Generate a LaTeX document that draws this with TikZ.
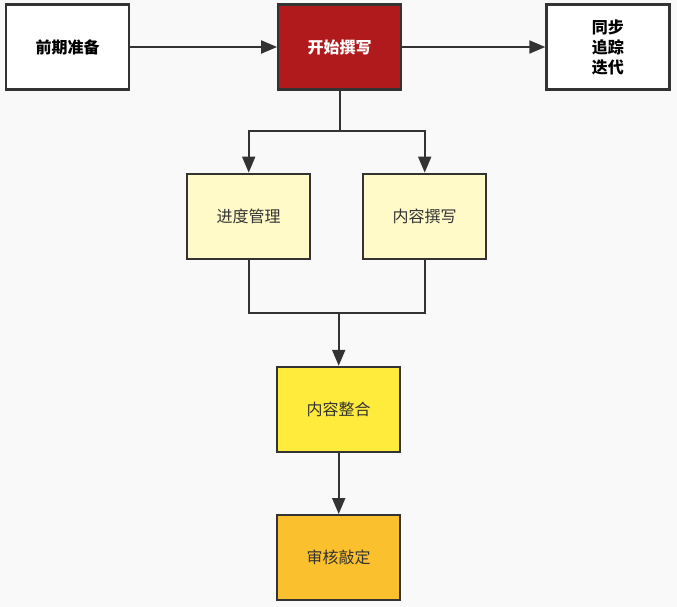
\documentclass[tikz,border=0pt]{standalone}
\usepackage{fontspec}
\setmainfont{Noto Sans CJK SC}
\usepackage{xcolor}
\usetikzlibrary{arrows.meta, positioning, calc}

\definecolor{bgc}{RGB}{249,249,249}
\definecolor{edgec}{RGB}{51,51,51}
\definecolor{redc}{RGB}{176,26,28}
\definecolor{paleyel}{RGB}{255,250,200}
\definecolor{yel}{RGB}{255,235,59}
\definecolor{oran}{RGB}{251,192,45}

\begin{document}
\begin{tikzpicture}[x=1pt,y=-1pt,>={Triangle[length=16pt,width=13pt]},
    box/.style={draw=edgec,line width=2.2pt,minimum width=123pt,minimum height=85pt,
      align=center,font=\fontsize{16}{20}\selectfont,text=edgec},
    flow/.style={->,draw=edgec,line width=2pt}]
  \fill[bgc] (0,0) rectangle (677,607);
  \node[box,fill=white,font=\fontsize{16}{20}\selectfont\bfseries,text=black] (prep) at (67.5,47) {前期准备};
  \node[box,fill=redc,font=\fontsize{16}{20}\selectfont\bfseries,text=white,
        right=147pt of prep] (start) {开始撰写};
  \node[box,fill=white,font=\fontsize{16}{20}\selectfont\bfseries,text=black,
        right=143pt of start] (sync) {同步\\追踪\\迭代};
  \node[box,fill=paleyel,below=82pt of start,xshift=-91pt] (sched) {进度管理};
  \node[box,fill=paleyel,below=82pt of start,xshift=85pt] (write) {内容撰写};
  \node[box,fill=yel,below=106pt of sched,xshift=90pt] (merge) {内容整合};
  \node[box,fill=oran,below=61pt of merge] (final) {审核敲定};
  \coordinate (join) at ($(sched.south)+(0,53)$);
  \draw[flow](prep)--(start);
  \draw[flow](start)--(sync);
  \draw[flow](start.south)--++(0,40)-|(sched.north);
  \draw[flow](start.south)--++(0,40)-|(write.north);
  \draw[line width=2pt,draw=edgec](sched.south)--(join)-|(write.south);
  \draw[flow](join-|merge.north)--(merge.north);
  \draw[flow](merge)--(final);
\end{tikzpicture}
\end{document}
